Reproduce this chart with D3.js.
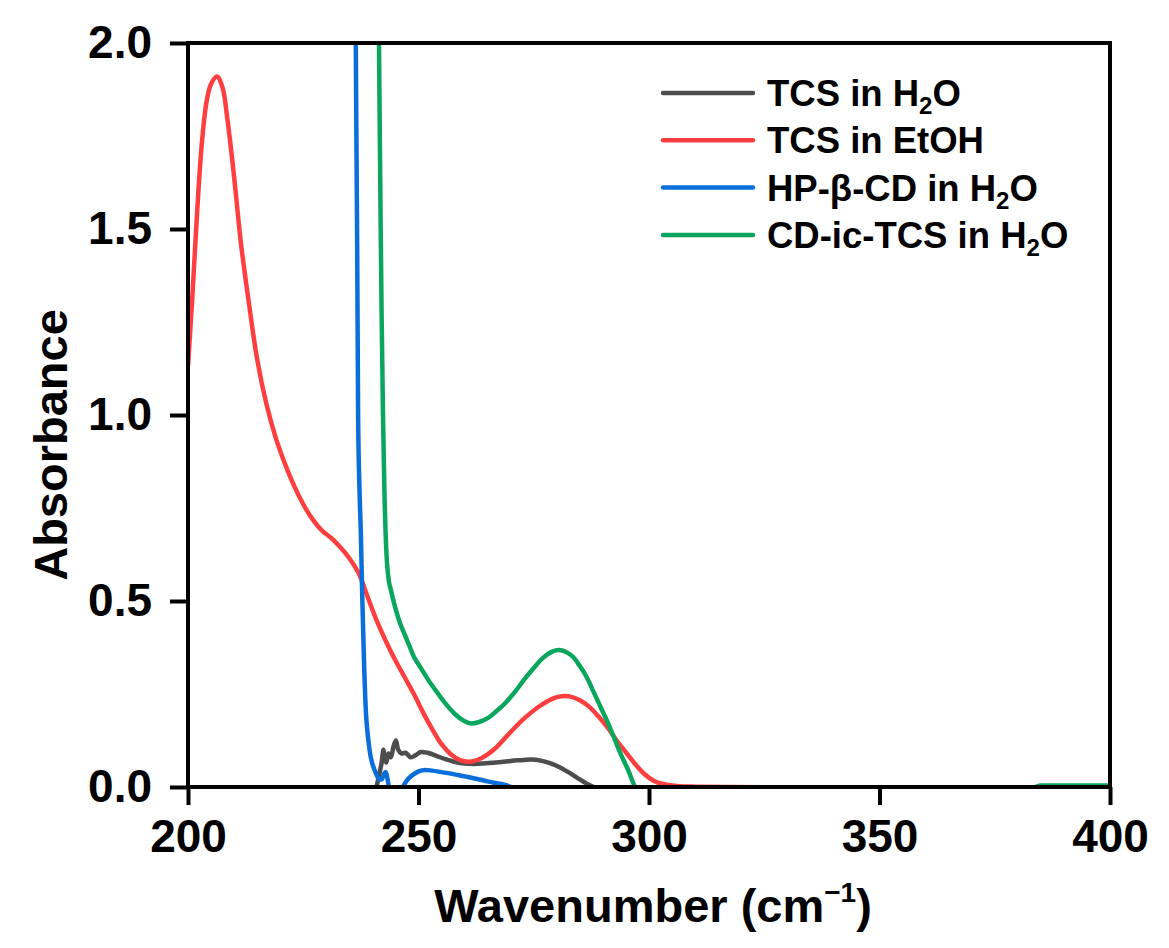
<!DOCTYPE html>
<html>
<head>
<meta charset="utf-8">
<script src="https://cdn.jsdelivr.net/npm/d3@7"></script>
<style>
  html, body { margin: 0; padding: 0; background: #fff; }
  svg { display: block; font-family: "Liberation Sans", Arial, sans-serif; font-weight: bold; }
</style>
</head>
<body>
<div id="chart"></div>
<script>
// UV-vis spectra, values
const X_TICKS = [200, 250, 300, 350, 400];
const Y_TICKS = [0, 0.5, 1.0, 1.5, 2.0];

const SERIES_NAMES = ["TCS in H2O", "TCS in EtOH", "HP-β-CD in H2O", "CD-ic-TCS in H2O"];
const SERIES_COLORS = ["#4d4d4d", "#ff3f3f", "#0b6fdb", "#0aa65e"];

const tcsWater = [
  [240.9, 0.0], [241.5, 0.035], [242.0, 0.065], [242.4, 0.1], [242.7, 0.08], [243.0, 0.065],
  [243.5, 0.09], [244.0, 0.08], [244.6, 0.11], [245.1, 0.125], [245.6, 0.1], [246.3, 0.09],
  [247.2, 0.092], [248.3, 0.08], [249.3, 0.085], [250.5, 0.094], [252, 0.092], [254, 0.083],
  [256, 0.074], [258, 0.067], [260, 0.063], [262, 0.062], [264, 0.063], [266, 0.065],
  [268, 0.067], [270, 0.07], [272, 0.072], [274.5, 0.074], [276.5, 0.071], [278.5, 0.064],
  [280.5, 0.054], [282.5, 0.04], [284.5, 0.024], [286.5, 0.009], [288, 0.0], [290, -0.01]
];

const tcsEtoh = [
  [200, 1.13], [201, 1.33], [202, 1.55], [203, 1.73], [204, 1.84], [205, 1.89], [206.3, 1.91],
  [207.5, 1.88], [208.5, 1.80], [210, 1.64], [211.5, 1.46], [213, 1.32], [215, 1.15],
  [217, 1.03], [219, 0.94], [221, 0.87], [223, 0.81], [225, 0.76], [227, 0.72], [229, 0.69],
  [231, 0.67], [233, 0.645], [235, 0.615], [237, 0.575], [239, 0.51], [241, 0.445], [243, 0.39],
  [245, 0.34], [247, 0.295], [249, 0.25], [251, 0.20], [253, 0.155], [255, 0.115], [257, 0.088],
  [259, 0.072], [261, 0.068], [263, 0.074], [265, 0.088], [267, 0.108], [270, 0.148],
  [273, 0.185], [276, 0.215], [279, 0.237], [281, 0.244], [283, 0.243], [285, 0.233],
  [287, 0.216], [289, 0.19], [291, 0.16], [293, 0.125], [295, 0.093], [297, 0.062],
  [299, 0.035], [301, 0.017], [303, 0.008], [306, 0.003], [310, 0.001], [340, -0.002], [400, -0.002]
];

const hpcdWater = [
  [236.3, 2.2], [236.5, 1.8], [236.7, 1.45], [236.9, 1.0], [237.2, 0.8], [237.5, 0.68],
  [237.8, 0.51], [238.2, 0.33], [238.6, 0.2], [239.0, 0.14], [239.5, 0.09], [240.0, 0.062],
  [240.5, 0.045], [241.0, 0.03], [241.5, 0.02], [242.0, 0.02], [242.5, 0.035], [242.9, 0.04],
  [243.3, 0.02], [243.6, 0.0], [244.5, -0.02], [246.0, -0.01], [246.6, 0.0], [247.5, 0.018],
  [248.5, 0.03], [250, 0.042], [251.5, 0.046], [253, 0.044], [255, 0.04], [257, 0.036],
  [259, 0.031], [261, 0.026], [263, 0.021], [265, 0.015], [267, 0.01], [269, 0.005],
  [270, 0.0], [272, -0.01]
];

const cdicWater = [
  [241.3, 2.2], [241.5, 1.9], [241.8, 1.5], [242.0, 1.27], [242.3, 1.0], [242.6, 0.8],
  [243.0, 0.64], [243.5, 0.56], [244.0, 0.53], [245, 0.48], [246, 0.44], [247, 0.41],
  [248, 0.38], [249, 0.35], [250, 0.33], [251, 0.31], [252, 0.29], [254, 0.255], [256, 0.222],
  [258, 0.195], [260, 0.177], [261.5, 0.171], [263, 0.174], [265, 0.185], [267, 0.205],
  [269, 0.228], [271, 0.257], [273, 0.29], [275, 0.32], [277, 0.347], [279, 0.364],
  [280.5, 0.368], [282, 0.363], [283.5, 0.35], [285, 0.325], [286.5, 0.295], [288, 0.255],
  [289.5, 0.215], [291, 0.175], [292.5, 0.13], [294, 0.085], [295.5, 0.045], [297, 0.0],
  [299, -0.02], [380, -0.02], [385, 0.004], [400, 0.004]
];

const SERIES = [tcsWater, tcsEtoh, hpcdWater, cdicWater];
// smooth spline for the gentle bands, monotone for the near-vertical edges
const CURVES = [d3.curveCatmullRom.alpha(0.5), d3.curveCatmullRom.alpha(0.5), d3.curveMonotoneX, d3.curveMonotoneX];

const W = 1169, H = 948;
const margin = { top: 43, right: 59, bottom: 161, left: 188 };
const iW = W - margin.left - margin.right;
const iH = H - margin.top - margin.bottom;

const svg = d3.select("#chart").append("svg")
  .attr("width", W).attr("height", H)
  .attr("viewBox", `0 0 ${W} ${H}`);

const g = svg.append("g").attr("transform", `translate(${margin.left},${margin.top})`);

const x = d3.scaleLinear().domain([200, 400]).range([0, iW]);
const y = d3.scaleLinear().domain([0, 2]).range([iH, 0]);

svg.append("defs").append("clipPath").attr("id", "plot-clip")
  .append("rect").attr("width", iW).attr("height", iH);

// curves — green drawn last so it sits on top where it crosses red
const plot = g.append("g").attr("clip-path", "url(#plot-clip)");
SERIES.forEach((s, i) => {
  const line = d3.line().x(d => x(d[0])).y(d => y(d[1])).curve(CURVES[i]);
  plot.append("path")
    .datum(s)
    .attr("d", line)
    .attr("fill", "none")
    .attr("stroke", SERIES_COLORS[i])
    .attr("stroke-width", 4.5)
    .attr("stroke-linejoin", "round")
    .attr("stroke-linecap", "round");
});

// frame (top and right sides have no ticks)
g.append("rect")
  .attr("width", iW).attr("height", iH)
  .attr("fill", "none").attr("stroke", "#000").attr("stroke-width", 4);

// X axis
g.append("g")
  .attr("transform", `translate(0,${iH})`)
  .call(d3.axisBottom(x).tickValues(X_TICKS).tickSize(18).tickPadding(14))
  .call(a => a.select(".domain").remove())
  .call(a => a.selectAll(".tick line").attr("stroke", "#000").attr("stroke-width", 4))
  .call(a => a.selectAll(".tick text")
    .attr("fill", "#000").attr("font-size", 46).attr("font-weight", "bold")
    .attr("font-family", "'Liberation Sans', Arial, sans-serif"));

// Y axis
g.append("g")
  .call(d3.axisLeft(y).tickValues(Y_TICKS).tickFormat(d3.format(".1f")).tickSize(18).tickPadding(18))
  .call(a => a.select(".domain").remove())
  .call(a => a.selectAll(".tick line").attr("stroke", "#000").attr("stroke-width", 4))
  .call(a => a.selectAll(".tick text")
    .attr("fill", "#000").attr("font-size", 46).attr("font-weight", "bold")
    .attr("font-family", "'Liberation Sans', Arial, sans-serif"));

// axis titles
const xt = svg.append("text")
  .attr("x", margin.left + iW / 2 + 4).attr("y", 922)
  .attr("text-anchor", "middle").attr("font-size", 47).attr("fill", "#000");
xt.append("tspan").text("Wavenumber (cm");
xt.append("tspan").attr("font-size", 28).attr("dy", -20).text("\u22121");
xt.append("tspan").attr("dy", 20).text(")");

svg.append("text")
  .attr("transform", "translate(67,445) rotate(-90)")
  .attr("text-anchor", "middle").attr("font-size", 47).attr("fill", "#000")
  .text("Absorbance");

// legend
const legend = svg.append("g").attr("transform", "translate(663,93)");
SERIES_NAMES.forEach((name, i) => {
  const row = legend.append("g").attr("transform", `translate(0,${i * 47.3})`);
  row.append("line")
    .attr("x1", 0).attr("x2", 90)
    .attr("stroke", SERIES_COLORS[i]).attr("stroke-width", 4.5).attr("stroke-linecap", "round");
  const t = row.append("text").attr("x", 104).attr("y", 13)
    .attr("font-size", 36.5).attr("fill", "#000");
  if (name.endsWith("H2O")) {
    t.append("tspan").text(name.slice(0, -2));
    t.append("tspan").attr("font-size", 24).attr("dy", 8).text("2");
    t.append("tspan").attr("dy", -8).text("O");
  } else {
    t.text(name);
  }
});
</script>
</body>
</html>
